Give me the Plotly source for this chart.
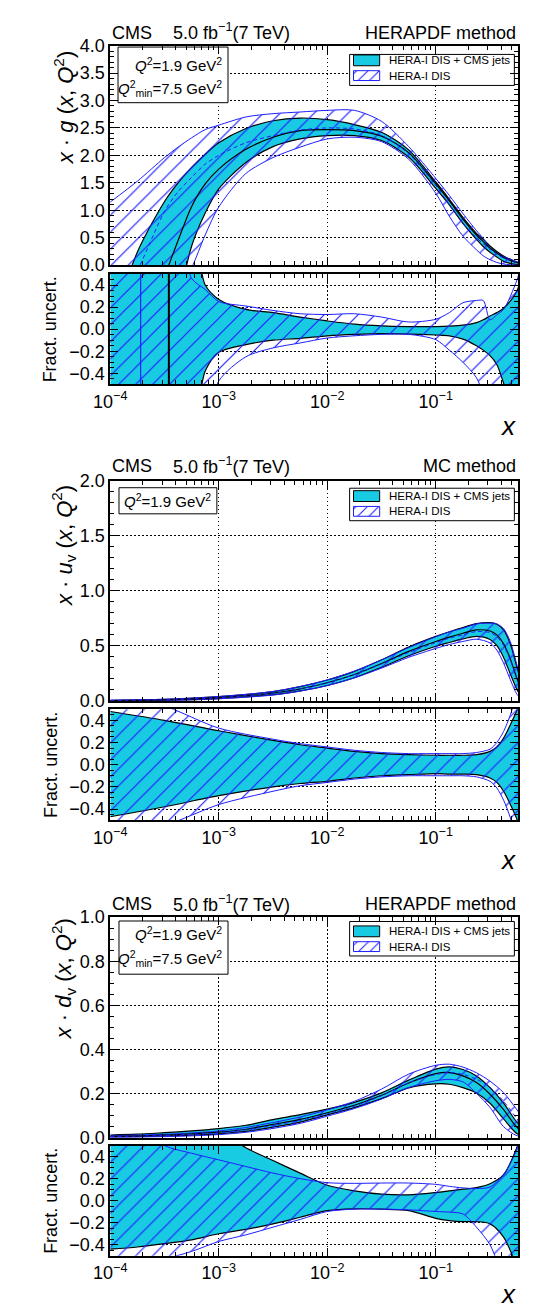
import plotly.graph_objects as go

# ================= DATA (x grids are log10(x)) =================
# ---- Panel 1: x*g(x,Q^2), HERAPDF method ----
g_logx = [-4, -3.75, -3.5, -3.375, -3.25, -3.125, -3, -2.75, -2.5, -2.25, -2, -1.75,
          -1.5, -1.25, -1, -0.875, -0.75, -0.625, -0.5625, -0.5, -0.4375, -0.375,
          -0.25, -0.125, 0]
g_jets_c = [-2.5, -1.4, -0.2, 0.45, 1.07, 1.48, 1.75, 2.11, 2.33, 2.45, 2.47, 2.45,
            2.35, 2.05, 1.48, 1.17, 0.84, 0.55, 0.43, 0.31, 0.22, 0.14, 0.045, 0.008, 0]
g_jets_up = [-1.2, 0.24, 1.16, 1.50, 1.78, 2.02, 2.23, 2.49, 2.63, 2.68, 2.65, 2.56,
             2.42, 2.10, 1.515, 1.20, 0.87, 0.58, 0.47, 0.35, 0.25, 0.167, 0.058, 0.012, 0]
g_jets_lo = [-5.0, -3.5, -1.8, -0.7, 0.35, 0.95, 1.39, 1.87, 2.16, 2.30, 2.36, 2.36,
             2.27, 1.97, 1.40, 1.10, 0.76, 0.47, 0.34, 0.235, 0.15, 0.07, 0.01, 0, 0]
g_dis_c = [-1.0, -0.1, 0.98, 1.34, 1.60, 1.84, 2.0, 2.23, 2.36, 2.46, 2.50, 2.48,
           2.36, 2.03, 1.45, 1.10, 0.76, 0.50, 0.39, 0.29, 0.2, 0.13, 0.045, 0.008, 0]
g_dis_up = [1.15, 1.53, 1.96, 2.15, 2.32, 2.47, 2.55, 2.70, 2.76, 2.79, 2.82, 2.82,
            2.62, 2.16, 1.58, 1.27, 0.94, 0.63, 0.49, 0.315, 0.225, 0.155, 0.06, 0.014, 0]
g_dis_lo = [-3.0, -2.0, -0.9, -0.5, -0.05, 0.55, 1.06, 1.67, 1.96, 2.15, 2.30, 2.33,
            2.25, 1.93, 1.31, 0.89, 0.53, 0.28, 0.17, 0.10, 0.05, 0.02, 0.0, 0, 0]
g_jets_rup = [0.9, 0.9, 0.9, 0.9, 0.9, 0.40, 0.27, 0.18, 0.15, 0.11, 0.075, 0.045,
              0.03, 0.024, 0.024, 0.027, 0.036, 0.06, 0.085, 0.12, 0.15, 0.19, 0.35, 0.9, 1.0]
g_jets_rlo = [-0.9, -0.9, -0.9, -0.9, -0.9, -0.38, -0.21, -0.14, -0.10, -0.083, -0.06, -0.047,
              -0.04, -0.044, -0.053, -0.06, -0.09, -0.15, -0.19, -0.24, -0.32, -0.49, -0.9, -0.9, -0.9]
g_dis_rup = [0.9, 0.9, 0.9, 0.9, 0.46, 0.36, 0.25, 0.21, 0.17, 0.14, 0.133, 0.14,
             0.11, 0.065, 0.09, 0.15, 0.24, 0.26, 0.26, 0.085, 0.13, 0.18, 0.45, 0.9, 1.0]
g_dis_rlo = [-0.9, -0.9, -0.9, -0.9, -0.9, -0.9, -0.47, -0.25, -0.17, -0.125, -0.08, -0.06,
             -0.047, -0.047, -0.095, -0.19, -0.30, -0.44, -0.6, -0.9, -0.9, -0.9, -0.9, -0.9, -0.9]
g_zero_logx = [-3.46, -3.72]          # where the central values cross zero (jets, DIS)

# ---- Panel 2: x*u_v(x,Q^2), MC method ----
u_logx = [-4, -3.5, -3, -2.5, -2.25, -2, -1.75, -1.5, -1.25, -1, -0.875, -0.75,
          -0.625, -0.5, -0.4375, -0.375, -0.3125, -0.25, -0.1875, -0.125, -0.0625, 0]
u_jets_c = [0.004, 0.01, 0.03, 0.07, 0.11, 0.165, 0.24, 0.34, 0.45, 0.54, 0.58, 0.615,
            0.645, 0.635, 0.60, 0.52, 0.38, 0.2, 0.06, 0.01, 0, 0]
u_jets_up = [0.0059, 0.014, 0.039, 0.085, 0.13, 0.19, 0.269, 0.374, 0.49, 0.586, 0.629, 0.667,
             0.703, 0.711, 0.696, 0.645, 0.517, 0.30, 0.108, 0.02, 0, 0]
u_jets_lo = [0.0021, 0.0062, 0.0216, 0.056, 0.091, 0.14, 0.211, 0.306, 0.41, 0.497, 0.531, 0.563,
             0.587, 0.559, 0.504, 0.395, 0.243, 0.10, 0.012, 0, 0, 0]
u_dis_c = [0.004, 0.01, 0.03, 0.07, 0.11, 0.165, 0.24, 0.335, 0.44, 0.53, 0.57, 0.60,
           0.63, 0.62, 0.585, 0.505, 0.37, 0.195, 0.058, 0.01, 0, 0]
u_dis_up = [0.0066, 0.0153, 0.04, 0.086, 0.131, 0.191, 0.271, 0.372, 0.484, 0.583, 0.627, 0.66,
            0.70, 0.707, 0.70, 0.657, 0.537, 0.32, 0.11, 0.021, 0, 0]
u_dis_lo = [0.0014, 0.0045, 0.0192, 0.053, 0.089, 0.139, 0.209, 0.298, 0.396, 0.477, 0.513, 0.54,
            0.561, 0.527, 0.462, 0.343, 0.192, 0.058, 0.006, 0, 0, 0]
u_jets_rup = [0.48, 0.40, 0.306, 0.22, 0.18, 0.15, 0.12, 0.10, 0.09, 0.085, 0.085, 0.085,
              0.09, 0.12, 0.16, 0.24, 0.36, 0.5, 0.8, 1.0, 1.2, 1.2]
u_jets_rlo = [-0.47, -0.38, -0.28, -0.20, -0.17, -0.15, -0.12, -0.10, -0.09, -0.08, -0.085, -0.085,
              -0.09, -0.12, -0.16, -0.24, -0.36, -0.5, -0.8, -1.0, -1.2, -1.2]
u_dis_rup = [0.65, 0.53, 0.33, 0.23, 0.19, 0.16, 0.13, 0.11, 0.10, 0.10, 0.10, 0.10,
             0.11, 0.14, 0.2, 0.3, 0.45, 0.65, 0.9, 1.1, 1.3, 1.4]
u_dis_rlo = [-0.65, -0.55, -0.36, -0.24, -0.19, -0.16, -0.13, -0.11, -0.10, -0.10, -0.10, -0.10,
             -0.11, -0.15, -0.21, -0.32, -0.48, -0.7, -0.9, -1.1, -1.3, -1.4]

# ---- Panel 3: x*d_v(x,Q^2), HERAPDF method ----
d_logx = [-4, -3.75, -3.5, -3.25, -3, -2.75, -2.5, -2.25, -2, -1.75, -1.5, -1.25,
          -1, -0.875, -0.75, -0.625, -0.5, -0.375, -0.25, -0.125, 0]
d_jets_c = [0.006, 0.008, 0.012, 0.017, 0.025, 0.038, 0.06, 0.083, 0.113, 0.147, 0.192, 0.248,
            0.29, 0.295, 0.28, 0.25, 0.197, 0.127, 0.046, 0.01, 0]
d_jets_up = [0.012, 0.0156, 0.0228, 0.0306, 0.0413, 0.0562, 0.0818, 0.104, 0.129, 0.160, 0.203, 0.261,
             0.311, 0.321, 0.309, 0.280, 0.227, 0.157, 0.069, 0.019, 0]
d_jets_lo = [0.0034, 0.0046, 0.0073, 0.011, 0.0175, 0.0281, 0.0474, 0.0706, 0.103, 0.136, 0.177, 0.226,
             0.244, 0.242, 0.227, 0.2025, 0.156, 0.085, 0.018, 0.001, 0]
d_dis_c = [0.005, 0.007, 0.01, 0.015, 0.022, 0.035, 0.055, 0.078, 0.108, 0.143, 0.19, 0.248,
           0.286, 0.295, 0.287, 0.265, 0.228, 0.165, 0.085, 0.02, 0]
d_dis_up = [0.0095, 0.0119, 0.015, 0.0215, 0.0301, 0.0459, 0.0688, 0.0936, 0.126, 0.165, 0.220, 0.288,
            0.328, 0.333, 0.320, 0.294, 0.256, 0.204, 0.125, 0.038, 0]
d_dis_lo = [0.0015, 0.0028, 0.0047, 0.0081, 0.0139, 0.0242, 0.0418, 0.0647, 0.0974, 0.132, 0.175, 0.227,
            0.258, 0.264, 0.253, 0.201, 0.137, 0.0495, 0.0085, 0.002, 0]
d_jets_rup = [1.0, 0.95, 0.9, 0.8, 0.65, 0.48, 0.364, 0.25, 0.14, 0.089, 0.059, 0.053,
              0.074, 0.089, 0.104, 0.119, 0.154, 0.237, 0.49, 0.9, 1.0]
d_jets_rlo = [-0.44, -0.42, -0.39, -0.355, -0.30, -0.26, -0.21, -0.15, -0.09, -0.074, -0.077, -0.09,
              -0.16, -0.18, -0.19, -0.19, -0.21, -0.33, -0.6, -0.9, -0.9]
d_dis_rup = [0.9, 0.7, 0.5, 0.43, 0.37, 0.31, 0.25, 0.20, 0.163, 0.157, 0.16, 0.16,
             0.148, 0.13, 0.116, 0.11, 0.124, 0.237, 0.47, 0.9, 1.0]
d_dis_rlo = [-0.7, -0.6, -0.53, -0.46, -0.37, -0.31, -0.24, -0.17, -0.098, -0.077, -0.077, -0.083,
             -0.098, -0.104, -0.12, -0.24, -0.40, -0.7, -0.9, -0.9, -0.9]

# tick labels / texts
x_tick_vals = [1e-4, 1e-3, 1e-2, 1e-1]
x_tick_text = ['10<sup>−4</sup>', '10<sup>−3</sup>', '10<sup>−2</sup>', '10<sup>−1</sup>']
ratio_ticks = [-0.4, -0.2, 0.0, 0.2, 0.4]
legend_labels = ['HERA-I DIS + CMS jets', 'HERA-I DIS']

# ================= STYLE / LAYOUT =================
W, H = 549, 1311
FONT = 'Liberation Sans, Arial, Helvetica, sans-serif'
CYAN = '#19CBE2'
BLUE = '#1E1EFF'
FX0, FX1 = 88.0, 509.0
XR = [-4, -0.24]
GRIDDASH = '1.5px,2.5px'


def pxx(px):
    return px / W


def pyy(py):
    return 1 - py / H


panels = [
    dict(name='g', logx=g_logx, jc=g_jets_c, ju=g_jets_up, jl=g_jets_lo, dc=g_dis_c, du=g_dis_up, dl=g_dis_lo,
         jru=g_jets_rup, jrl=g_jets_rlo, dru=g_dis_rup, drl=g_dis_rlo,
         main=(28, 251), ratio=(260, 372), yr=[0, 4.0], ymaj=0.5, ymin=0.1,
         ytitle='<i>x</i> · <i>g</i> (<i>x</i>, <i>Q</i><sup>2</sup>)', method='HERAPDF method',
         qlines=['<i>Q</i><sup>2</sup>=1.9 GeV<sup>2</sup>', '<i>Q</i><sup>2</sup><sub>min</sub>=7.5 GeV<sup>2</sup>'],
         qbox=(96, 209.5, 29.5, 86), qrows=[47, 72], leg=(335, 505, 37, 68.5), legrows=[43, 58.5],
         toptext=15, xlab=414, ytitle_top=31),
    dict(name='u', logx=u_logx, jc=u_jets_c, ju=u_jets_up, jl=u_jets_lo, dc=u_dis_c, du=u_dis_up, dl=u_dis_lo,
         jru=u_jets_rup, jrl=u_jets_rlo, dru=u_dis_rup, drl=u_dis_rlo,
         main=(470, 693.5), ratio=(702, 814.5), yr=[0, 2.0], ymaj=0.5, ymin=0.1,
         ytitle='<i>x</i> · <i>u</i><sub>v</sub> (<i>x</i>, <i>Q</i><sup>2</sup>)', method='MC method',
         qlines=['<i>Q</i><sup>2</sup>=1.9 GeV<sup>2</sup>'],
         qbox=(97, 198, 477, 503.5), qrows=[490], leg=(335, 505, 477.5, 510.5), legrows=[485.5, 501],
         toptext=455, xlab=855, ytitle_top=472),
    dict(name='d', logx=d_logx, jc=d_jets_c, ju=d_jets_up, jl=d_jets_lo, dc=d_dis_c, du=d_dis_up, dl=d_dis_lo,
         jru=d_jets_rup, jrl=d_jets_rlo, dru=d_dis_rup, drl=d_dis_rlo,
         main=(913, 1137), ratio=(1145, 1257), yr=[0, 1.0], ymaj=0.2, ymin=0.05,
         ytitle='<i>x</i> · <i>d</i><sub>v</sub> (<i>x</i>, <i>Q</i><sup>2</sup>)', method='HERAPDF method',
         qlines=['<i>Q</i><sup>2</sup>=1.9 GeV<sup>2</sup>', '<i>Q</i><sup>2</sup><sub>min</sub>=7.5 GeV<sup>2</sup>'],
         qbox=(97, 209.5, 917, 971), qrows=[930, 955], leg=(335, 505, 917.5, 952.5), legrows=[927.5, 943],
         toptext=900, xlab=1296, ytitle_top=912),
]

fig = go.Figure()
layout = dict(width=W, height=H, margin=dict(l=0, r=0, t=0, b=0),
              paper_bgcolor='white', plot_bgcolor='white', showlegend=False,
              font=dict(family=FONT, color='black', size=16))
annotations = []

MINOR = [k * 10.0 ** d for d in range(-4, 0) for k in range(2, 10)]
SPL = dict(shape='spline', smoothing=0.8)


def xaxis_cfg(anchor, labels):
    return dict(type='log', range=XR, domain=[pxx(FX0), pxx(FX1)], anchor=anchor,
                showline=True, linewidth=2, linecolor='black', mirror='allticks',
                ticks='inside', ticklen=8, tickwidth=1, tickcolor='black',
                tickmode='array', tickvals=x_tick_vals, ticktext=x_tick_text,
                showticklabels=labels, tickfont=dict(size=18, family=FONT, color='black'),
                showgrid=True, gridcolor='black', griddash=GRIDDASH, gridwidth=1,
                minor=dict(tickmode='array', tickvals=MINOR, ticks='inside', ticklen=4,
                           tickcolor='black', tickwidth=1, showgrid=False),
                zeroline=False)


def yaxis_cfg(anchor, dom, rng, tv, minor_dt):
    return dict(range=rng, domain=dom, anchor=anchor,
                showline=True, linewidth=2, linecolor='black', mirror='allticks',
                ticks='inside', ticklen=8, tickwidth=1, tickcolor='black',
                tickmode='array', tickvals=tv, ticktext=[f'{v:.1f}'.replace('-', '−') for v in tv],
                tickfont=dict(size=18, family=FONT, color='black'),
                showgrid=True, gridcolor='black', griddash=GRIDDASH, gridwidth=1,
                minor=dict(tick0=0, dtick=minor_dt, ticks='inside', ticklen=4, tickcolor='black',
                           tickwidth=1, showgrid=False),
                zeroline=False)


def add_band(logx, lo, up, xa, ya, kind):
    xs = [10 ** v for v in logx]
    if kind == 'jets':
        line = dict(color='black', width=1.2, **SPL)
        fig.add_trace(go.Scatter(x=xs, y=lo, mode='lines', line=line, xaxis=xa, yaxis=ya, hoverinfo='skip'))
        fig.add_trace(go.Scatter(x=xs, y=up, mode='lines', line=line, fill='tonexty', fillcolor=CYAN,
                                 xaxis=xa, yaxis=ya, hoverinfo='skip'))
    else:
        line = dict(color=BLUE, width=1, **SPL)
        fig.add_trace(go.Scatter(x=xs, y=lo, mode='lines', line=line, xaxis=xa, yaxis=ya, hoverinfo='skip'))
        fig.add_trace(go.Scatter(x=xs, y=up, mode='lines', line=line, fill='tonexty',
                                 fillcolor='rgba(0,0,0,0)',
                                 fillpattern=dict(shape='/', fgcolor=BLUE, bgcolor='rgba(0,0,0,0)',
                                                  size=12, solidity=0.1, fillmode='replace'),
                                 xaxis=xa, yaxis=ya, hoverinfo='skip'))


def add_line(logx, y, xa, ya, color, width, dash='solid'):
    fig.add_trace(go.Scatter(x=[10 ** v for v in logx], y=y, mode='lines',
                             line=dict(color=color, width=width, dash=dash, **SPL),
                             xaxis=xa, yaxis=ya, hoverinfo='skip'))


def px_to_x(px):
    return 10 ** (XR[0] + (px - FX0) / (FX1 - FX0) * (XR[1] - XR[0]))


for i, p in enumerate(panels):
    mi, ri = 2 * i + 1, 2 * i + 2
    mx = 'x' if mi == 1 else f'x{mi}'
    my = 'y' if mi == 1 else f'y{mi}'
    rx, ry = f'x{ri}', f'y{ri}'
    mt, mb = p['main']
    rt, rb = p['ratio']
    mdom = [pyy(mb), pyy(mt)]
    rdom = [pyy(rb), pyy(rt)]
    nmaj = int(round((p['yr'][1] - p['yr'][0]) / p['ymaj']))
    ytv = [round(p['yr'][0] + k * p['ymaj'], 3) for k in range(nmaj + 1)]
    layout['xaxis' if mi == 1 else f'xaxis{mi}'] = xaxis_cfg(my, False)
    layout['yaxis' if mi == 1 else f'yaxis{mi}'] = yaxis_cfg(mx, mdom, p['yr'], ytv, p['ymin'])
    layout[f'xaxis{ri}'] = xaxis_cfg(ry, True)
    layout[f'yaxis{ri}'] = yaxis_cfg(rx, rdom, [-0.5, 0.5], ratio_ticks, 0.05)

    # ---- main plot ----
    add_band(p['logx'], p['jl'], p['ju'], mx, my, 'jets')
    add_band(p['logx'], p['dl'], p['du'], mx, my, 'dis')
    add_line(p['logx'], p['jc'], mx, my, 'black', 1.2)
    add_line(p['logx'], p['dc'], mx, my, BLUE, 1, dash='4px,3px')

    # ---- ratio plot ----
    add_band(p['logx'], p['jrl'], p['jru'], rx, ry, 'jets')
    add_band(p['logx'], p['drl'], p['dru'], rx, ry, 'dis')
    if p['name'] == 'g':
        for lx, col, wd in [(g_zero_logx[0], 'black', 2), (g_zero_logx[1], BLUE, 1.2)]:
            fig.add_trace(go.Scatter(x=[10 ** lx, 10 ** lx], y=[-0.5, 0.5], mode='lines',
                                     line=dict(color=col, width=wd), xaxis=rx, yaxis=ry, hoverinfo='skip'))

    # ---- boxes & legend swatches, drawn as traces in the main axes (above grid) ----
    yr0, yr1 = p['yr']

    def py_to_y(py):
        return yr0 + (mb - py) / (mb - mt) * (yr1 - yr0)

    def rect(px0, px1, py0, py1, **kw):
        xs = [px_to_x(v) for v in (px0, px1, px1, px0, px0)]
        ys = [py_to_y(v) for v in (py1, py1, py0, py0, py1)]
        fig.add_trace(go.Scatter(x=xs, y=ys, mode='lines', fill='toself', xaxis=mx, yaxis=my,
                                 hoverinfo='skip', **kw))

    qx0, qx1, qy0, qy1 = p['qbox']
    rect(qx0, qx1, qy0, qy1, fillcolor='white', line=dict(color='black', width=1))
    lx0, lx1, ly0, ly1 = p['leg']
    rect(lx0, lx1, ly0, ly1, fillcolor='white', line=dict(color='black', width=1))

    for k, row in enumerate(p['legrows']):
        if k == 0:
            rect(339, 366, row - 5.5, row + 5.5, fillcolor=CYAN, line=dict(color='black', width=1))
        else:
            rect(339, 366, row - 5, row + 5, fillcolor='rgba(0,0,0,0)',
                 fillpattern=dict(shape='/', fgcolor=BLUE, bgcolor='white', size=8, solidity=0.13,
                                  fillmode='replace'),
                 line=dict(color=BLUE, width=1))
        annotations.append(dict(text=legend_labels[k], xref='paper', yref='paper', x=pxx(374), y=pyy(row),
                                xanchor='left', yanchor='middle', showarrow=False,
                                font=dict(size=11.5, family=FONT, color='black')))

    # Q^2 texts
    for row, t in zip(p['qrows'], p['qlines']):
        annotations.append(dict(text=t, xref='paper', yref='paper', x=pxx(qx1 - 4), y=pyy(row),
                                xanchor='right', yanchor='middle', showarrow=False,
                                font=dict(size=15, family=FONT, color='black')))

    # top texts
    annotations.append(dict(text='CMS', xref='paper', yref='paper', x=pxx(88), y=pyy(p['toptext']),
                            xanchor='left', yanchor='middle', showarrow=False,
                            font=dict(size=18, family=FONT, color='black')))
    annotations.append(dict(text='5.0 fb<sup>−1</sup>(7 TeV)', xref='paper', yref='paper', x=pxx(151),
                            y=pyy(p['toptext'] - 1), xanchor='left', yanchor='middle', showarrow=False,
                            font=dict(size=18, family=FONT, color='black')))
    annotations.append(dict(text=p['method'], xref='paper', yref='paper', x=pxx(FX1), y=pyy(p['toptext']),
                            xanchor='right', yanchor='middle', showarrow=False,
                            font=dict(size=18, family=FONT, color='black')))
    # y titles
    annotations.append(dict(text=p['ytitle'], xref='paper', yref='paper', x=pxx(40), y=pyy(p['ytitle_top']),
                            xanchor='center', yanchor='top', textangle=-90, showarrow=False,
                            font=dict(size=22, family=FONT, color='black')))
    annotations.append(dict(text='Fract. uncert.', xref='paper', yref='paper', x=pxx(26), y=pyy((rt + rb) / 2),
                            xanchor='center', yanchor='middle', textangle=-90, showarrow=False,
                            font=dict(size=18, family=FONT, color='black')))
    # x label
    annotations.append(dict(text='<i>x</i>', xref='paper', yref='paper', x=pxx(FX1), y=pyy(p['xlab']),
                            xanchor='right', yanchor='middle', showarrow=False,
                            font=dict(size=26, family=FONT, color='black')))

layout['annotations'] = annotations
fig.update_layout(**layout)
fig.write_html('out.html')
